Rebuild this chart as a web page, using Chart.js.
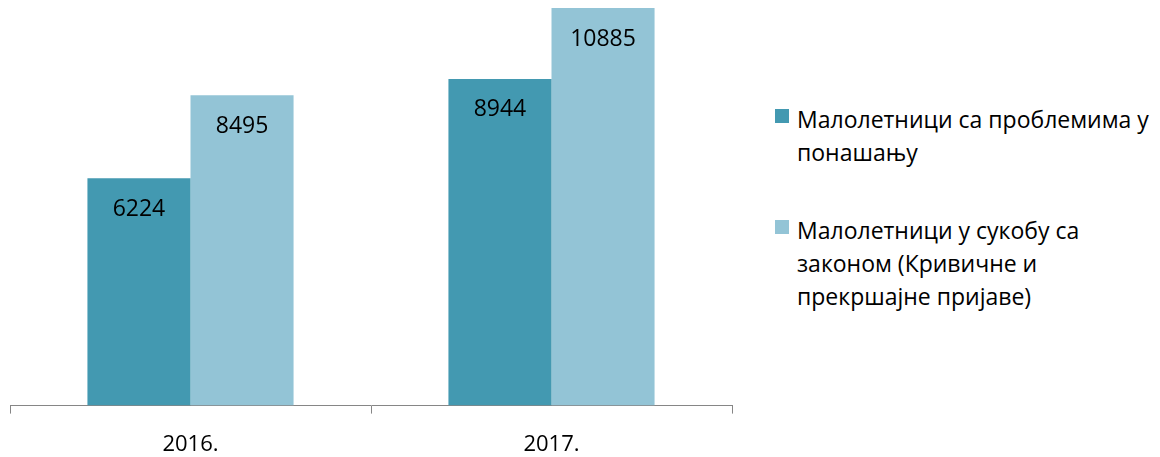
<!DOCTYPE html>
<html>
<head>
<meta charset="utf-8">
<script src="https://cdn.jsdelivr.net/npm/chart.js@4"></script>
<style>
  body { margin: 0; background: #fff; width: 1160px; height: 457px; overflow: hidden; position: relative; font-family: "Open Sans", sans-serif; }
  #wrap { position: absolute; left: 0; top: 0; width: 760px; height: 479px; }
  #legend { position: absolute; left: 775px; top: 103px; width: 385px; color: #000; font-size: 23px; line-height: 33px; }
  .item { position: relative; padding-left: 22px; margin-bottom: 45px; }
  .box { position: absolute; left: 0; top: 6px; width: 14px; height: 14px; }
</style>
</head>
<body>
<div id="wrap"><canvas id="grafikon"></canvas></div>
<div id="legend"></div>
<script>
/* podaci */
const godine = ['2016.', '2017.'];
const problemiPonasanje = [6224, 8944];
const sukobZakon = [8495, 10885];
const nazivi = [
    ['Малолетници са проблемима у', 'понашању'],
    ['Малолетници у сукобу са', 'законом (Кривичне и', 'прекршајне пријаве)']
];
const boje = ['#4399b1', '#93c4d6'];

/* natpisi vrednosti unutar stubica */
const natpisi = {
    id: 'natpisi',
    afterDatasetsDraw(chart) {
        const ctx = chart.ctx;
        ctx.save();
        ctx.font = '23px "Open Sans"';
        ctx.fillStyle = '#000';
        ctx.textAlign = 'center';
        ctx.textBaseline = 'middle';
        chart.data.datasets.forEach((ds, i) => {
            chart.getDatasetMeta(i).data.forEach((bar, j) => {
                ctx.fillText(ds.data[j], bar.x, bar.y + 31);
            });
        });
        ctx.restore();
    }
};

const grafikon = document.getElementById('grafikon');

new Chart(grafikon, {
    type: 'bar',
    data: {
        labels: godine,
        datasets: [{
            label: nazivi[0].join(' '),
            data: problemiPonasanje,
            backgroundColor: boje[0]
        }, {
            label: nazivi[1].join(' '),
            data: sukobZakon,
            backgroundColor: boje[1]
        }]
    },
    options: {
        responsive: true,
        maintainAspectRatio: false,
        animation: false,
        layout: { padding: { left: 10, right: 28, top: 0, bottom: 3 } },
        datasets: {
            bar: { categoryPercentage: 0.571, barPercentage: 1 }
        },
        scales: {
            x: {
                grid: { drawOnChartArea: false, color: '#868686', tickLength: 8 },
                border: { color: '#868686', width: 1 },
                ticks: { color: '#000', font: { family: 'Open Sans', size: 22 }, padding: 18 }
            },
            y: {
                display: false,
                min: 0,
                max: 11105
            }
        },
        plugins: {
            legend: { display: false },
            tooltip: { enabled: false }
        }
    },
    plugins: [natpisi]
});

/* legenda */
const legenda = document.getElementById('legend');
nazivi.forEach((linije, i) => {
    const el = document.createElement('div');
    el.className = 'item';
    el.innerHTML = '<span class="box" style="background:' + boje[i] + '"></span>' + linije.join('<br>');
    legenda.appendChild(el);
});
</script>
</body>
</html>
